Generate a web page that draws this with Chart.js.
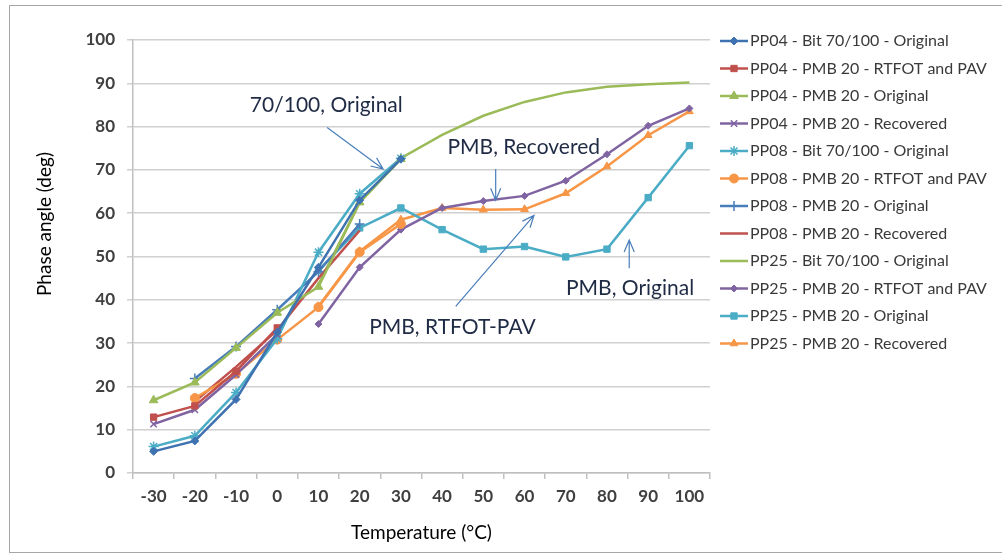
<!DOCTYPE html>
<html>
<head>
<meta charset="utf-8">
<script src="https://cdn.jsdelivr.net/npm/chart.js@4.4.0/dist/chart.umd.min.js"></script>
<style>
html, body { margin: 0; padding: 0; background: #fff; }
#kutu { position: relative; width: 1002px; height: 556px; }
#cerceve { position: absolute; left: 9px; top: 5px; width: 993px; height: 548px; border: 1px solid #a6a6a6; border-right: none; box-sizing: border-box; pointer-events: none; }
canvas { position: absolute; left: 0; top: 0; }
</style>
</head>
<body>
<div id="kutu">
    <canvas id="fazAcisi" width="1002" height="556"></canvas>
    <div id="cerceve"></div>
</div>
<script>
// kategoriler (°C)
const sicakliklar = ['-30', '-20', '-10', '0', '10', '20', '30', '40', '50', '60', '70', '80', '90', '100'];

// faz açısı değerleri (deg)
const pp04BitOrj   = [5.0, 7.4, 17.0, 32.5, 47.5, 63.0, 72.5, null, null, null, null, null, null, null];
const pp04PmbRtfot = [12.9, 15.5, 23.5, 33.5, null, null, null, null, null, null, null, null, null, null];
const pp04PmbOrj   = [16.8, 20.9, 28.9, 37.0, 43.0, 62.5, 72.5, null, null, null, null, null, null, null];
const pp04PmbGeri  = [11.3, 14.6, 22.7, 32.0, null, null, null, null, null, null, null, null, null, null];
const pp08BitOrj   = [6.1, 8.6, 18.6, 31.0, 51.0, 64.5, 72.7, null, null, null, null, null, null, null];
const pp08PmbRtfot = [null, 17.3, 22.9, 30.8, 38.3, 51.0, 57.5, null, null, null, null, null, null, null];
const pp08PmbOrj   = [null, 21.8, 29.2, 37.7, 46.5, 57.5, null, null, null, null, null, null, null, null];
const pp08PmbGeri  = [null, 16.5, 24.5, 33.0, 45.0, 56.0, null, null, null, null, null, null, null, null];
const pp25BitOrj   = [null, null, null, null, 43.5, 62.5, 72.7, 78.1, 82.5, 85.7, 87.9, 89.2, 89.8, 90.2];
const pp25PmbRtfot = [null, null, null, null, 34.4, 47.5, 56.2, 61.2, 62.8, 64.0, 67.5, 73.6, 80.2, 84.2];
const pp25PmbOrj   = [null, null, null, null, 46.8, 56.6, 61.2, 56.2, 51.7, 52.3, 49.9, 51.7, 63.6, 75.6];
const pp25PmbGeri  = [null, null, null, null, 38.5, 51.2, 58.5, 61.2, 60.8, 60.9, 64.6, 70.8, 78.0, 83.5];

const mavi = '#4a7ebb', kirmizi = '#c0504d', yesil = '#9bbb59', mor = '#8064a2', turkuaz = '#4bacc6', turuncu = '#f79646';

function seri(etiket, veri, renk, isaret, boyut) {
    return {
        label: etiket,
        data: veri,
        borderColor: renk,
        backgroundColor: renk,
        pointBorderColor: renk,
        pointBackgroundColor: renk,
        borderWidth: 2.5,
        pointStyle: isaret,
        pointRadius: isaret ? boyut : 0,
        pointBorderWidth: (isaret === 'crossRot' || isaret === 'cross' || isaret === 'star') ? 1.5 : 1,
        tension: 0,
        fill: false
    };
}

// ok ve yazılar (kategori indeksi, değer)
const notlar = [
    { yazi: '70/100, Original', x: 4.19, y: 85.0, ok: [4.21, 79.8, 5.57, 70.2] },
    { yazi: 'PMB, Recovered', x: 8.98, y: 75.2, ok: [8.30, 70.2, 8.30, 63.0] },
    { yazi: 'PMB, RTFOT-PAV', x: 7.25, y: 33.7, ok: [7.33, 38.5, 9.23, 59.5] },
    { yazi: 'PMB, Original', x: 11.56, y: 42.7, ok: [11.54, 47.3, 11.54, 53.8] }
];

const notEklentisi = {
    id: 'notlar',
    afterDatasetsDraw(chart) {
        const ctx = chart.ctx, xs = chart.scales.x, ys = chart.scales.y;
        ctx.save();
        ctx.font = '21px Lato';
        ctx.fillStyle = '#1f2a44';
        ctx.textAlign = 'center';
        ctx.textBaseline = 'middle';
        notlar.forEach(n => {
            ctx.fillText(n.yazi, xs.getPixelForValue(n.x), ys.getPixelForValue(n.y));
            const x1 = xs.getPixelForValue(n.ok[0]), y1 = ys.getPixelForValue(n.ok[1]);
            const x2 = xs.getPixelForValue(n.ok[2]), y2 = ys.getPixelForValue(n.ok[3]);
            const aci = Math.atan2(y2 - y1, x2 - x1);
            ctx.strokeStyle = mavi;
            ctx.lineWidth = 1.2;
            ctx.beginPath();
            ctx.moveTo(x1, y1);
            ctx.lineTo(x2, y2);
            ctx.moveTo(x2 - 13 * Math.cos(aci - 0.4), y2 - 13 * Math.sin(aci - 0.4));
            ctx.lineTo(x2, y2);
            ctx.lineTo(x2 - 13 * Math.cos(aci + 0.4), y2 - 13 * Math.sin(aci + 0.4));
            ctx.stroke();
        });

        // y ekseni başlığı (Excel'de yukarı kaydırılmış)
        ctx.save();
        ctx.translate(45, 224);
        ctx.rotate(-Math.PI / 2);
        ctx.font = '19px Lato';
        ctx.fillStyle = '#000';
        ctx.fillText('Phase angle (deg)', 0, 0);
        ctx.restore();
        ctx.restore();
    }
};

// Excel tarzı açıklama: çizgi + işaret
const aciklamaEklentisi = {
    id: 'aciklama',
    afterDraw(chart) {
        const ctx = chart.ctx;
        const sol = chart.chartArea.right + 10;
        const ust = chart.chartArea.top + 1;
        ctx.save();
        chart.data.datasets.forEach((ds, i) => {
            const y = ust + i * 27.5;
            ctx.strokeStyle = ds.borderColor;
            ctx.lineWidth = 2.5;
            ctx.beginPath();
            ctx.moveTo(sol, y);
            ctx.lineTo(sol + 28, y);
            ctx.stroke();
            if (ds.pointStyle && Chart.helpers && Chart.helpers.drawPoint) {
                ctx.fillStyle = ds.pointBackgroundColor;
                ctx.strokeStyle = ds.pointBorderColor;
                ctx.lineWidth = ds.pointBorderWidth;
                Chart.helpers.drawPoint(ctx, { pointStyle: ds.pointStyle, radius: ds.pointRadius, rotation: 0, borderWidth: ds.pointBorderWidth }, sol + 14, y);
            }
            ctx.fillStyle = '#3a3a3a';
            ctx.font = '16px Lato';
            ctx.textAlign = 'left';
            ctx.textBaseline = 'middle';
            ctx.fillText(ds.label, sol + 30, y);
        });
        ctx.restore();
    }
};

const config = {
    type: 'line',
    data: {
        labels: sicakliklar,
        datasets: [
            seri('PP04 - Bit 70/100 - Original', pp04BitOrj, '#3f72b0', 'rectRot', 4),
            seri('PP04 - PMB 20 - RTFOT and PAV', pp04PmbRtfot, kirmizi, 'rect', 4.5),
            seri('PP04 - PMB 20 - Original', pp04PmbOrj, yesil, 'triangle', 5),
            seri('PP04 - PMB 20 - Recovered', pp04PmbGeri, mor, 'crossRot', 4.5),
            seri('PP08 - Bit 70/100 - Original', pp08BitOrj, turkuaz, 'star', 5),
            seri('PP08 - PMB 20 - RTFOT and PAV', pp08PmbRtfot, turuncu, 'circle', 4.5),
            seri('PP08 - PMB 20 - Original', pp08PmbOrj, mavi, 'cross', 5),
            seri('PP08 - PMB 20 - Recovered', pp08PmbGeri, kirmizi, false, 0),
            seri('PP25 - Bit 70/100 - Original', pp25BitOrj, yesil, false, 0),
            seri('PP25 - PMB 20 - RTFOT and PAV', pp25PmbRtfot, mor, 'rectRot', 3.5),
            seri('PP25 - PMB 20 - Original', pp25PmbOrj, turkuaz, 'rect', 4.5),
            seri('PP25 - PMB 20 - Recovered', pp25PmbGeri, turuncu, 'triangle', 4.5)
        ]
    },
    options: {
        responsive: false,
        animation: false,
        layout: { padding: { left: 0, right: 292, top: 40, bottom: 0 } },
        plugins: {
            legend: { display: false },
            tooltip: { enabled: false }
        },
        scales: {
            x: {
                offset: true,
                grid: { offset: true, drawOnChartArea: false, drawTicks: true, tickLength: 6, color: '#bfbfbf', lineWidth: 1.5 },
                border: { color: '#bfbfbf', width: 1.5 },
                ticks: { color: '#404040', font: { family: 'Lato', size: 17, weight: 'bold' }, padding: 7, maxRotation: 0, autoSkip: false },
                title: { display: true, text: 'Temperature (°C)', color: '#000', font: { family: 'Lato', size: 19 }, padding: { top: 0, bottom: 12 } },
                afterFit(s) { s.height = 83; }
            },
            y: {
                min: 0,
                max: 100,
                grid: { color: '#d0d0d0', lineWidth: 1.5, tickLength: 6 },
                border: { color: '#bfbfbf', width: 1.5 },
                ticks: { stepSize: 10, color: '#404040', font: { family: 'Lato', size: 17, weight: 'bold' }, padding: 12 },
                afterFit(s) { s.width = 133; }
            }
        }
    },
    plugins: [notEklentisi, aciklamaEklentisi]
};

const grafik = new Chart(document.getElementById('fazAcisi').getContext('2d'), config);
</script>
</body>
</html>
